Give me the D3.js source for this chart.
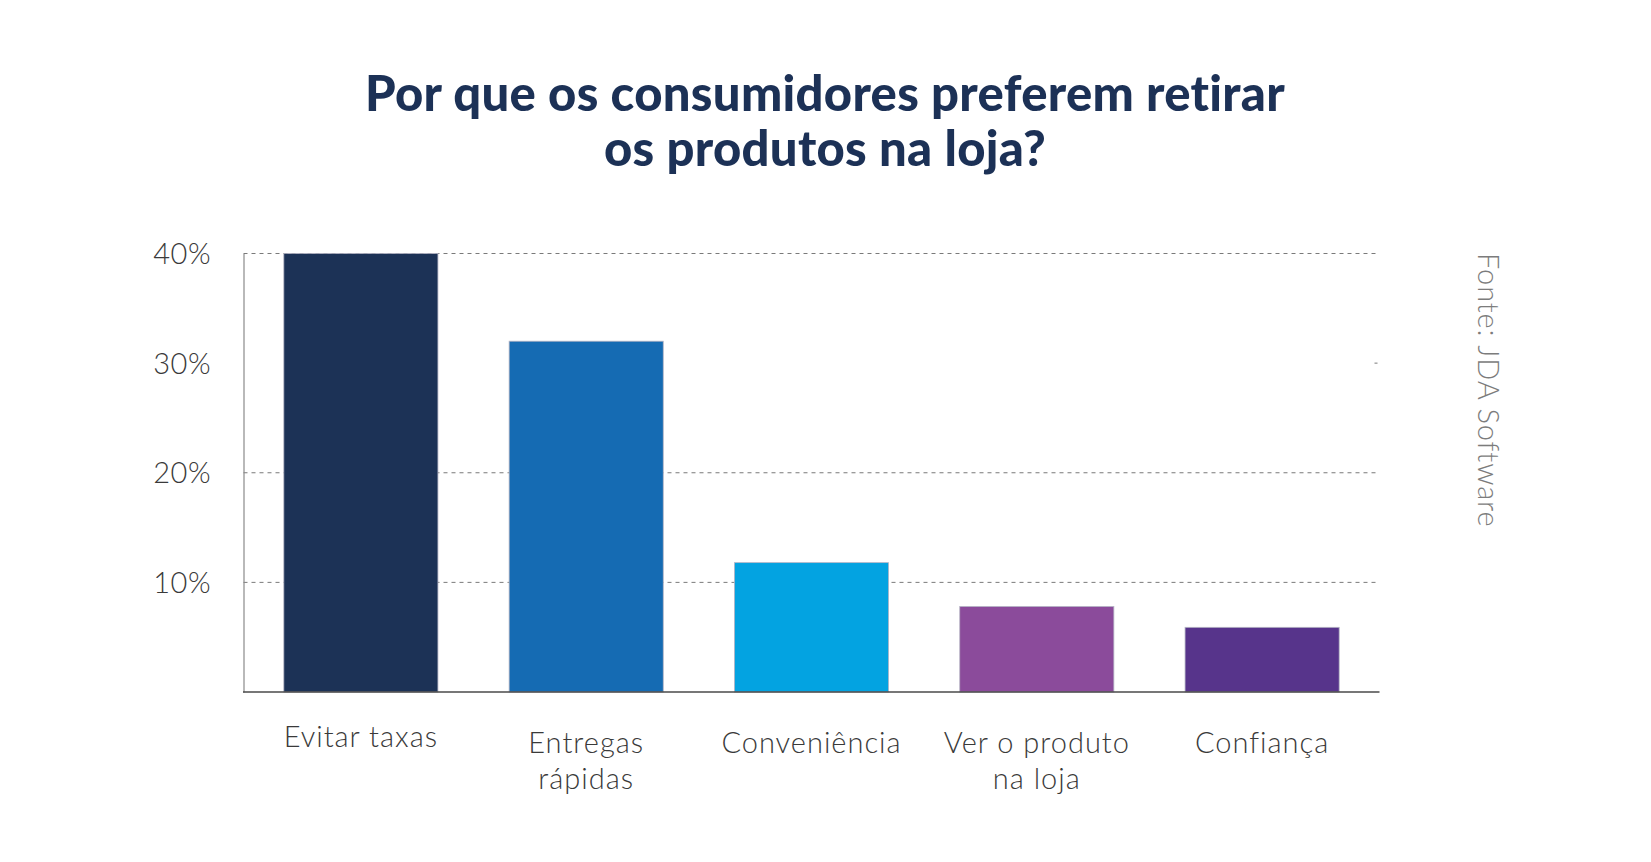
<!DOCTYPE html>
<html>
<head>
<meta charset="utf-8">
<script src="https://cdn.jsdelivr.net/npm/d3@7"></script>
<style>
  html, body { margin: 0; padding: 0; background: #fff; }
  svg { display: block; }
</style>
</head>
<body>
<svg id="chart" width="1651" height="862"></svg>
<script>
const titleLines = ["Por que os consumidores preferem retirar", "os produtos na loja?"];
const categories = ["Evitar taxas", "Entregas\nrápidas", "Conveniência", "Ver o produto\nna loja", "Confiança"];
const values = [40, 32, 11.8, 7.8, 5.9];
const barColors = ["#1c3256", "#156bb3", "#03a3e1", "#8b4b9b", "#57348b"];
const yTicks = [10, 20, 30, 40];
const sourceText = "Fonte: JDA Software";

const svg = d3.select("#chart");
const W = 1651, H = 862;
const plot = { left: 243.5, right: 1379.5, top: 253.5, bottom: 692 };
const FONT = "Lato, 'Open Sans', sans-serif";

svg.append("rect").attr("width", W).attr("height", H).attr("fill", "#fff");

// Title
const title = svg.append("text")
  .attr("x", 825).attr("y", 111)
  .attr("text-anchor", "middle")
  .attr("font-family", FONT)
  .attr("font-weight", 900)
  .attr("font-size", 49)
  .attr("letter-spacing", 0.3)
  .attr("fill", "#1c3156");
title.selectAll("tspan").data(titleLines).join("tspan")
  .attr("x", 825)
  .attr("dy", (d, i) => i === 0 ? 0 : 55)
  .text(d => d);

const x = d3.scaleBand()
  .domain(categories)
  .range([plot.left, plot.right])
  .paddingInner(0.316)
  .paddingOuter(0.179);

const y = d3.scaleLinear().domain([0, 40]).range([plot.bottom, plot.top]);

// Gridlines (dashed)
const grid = svg.append("g");
grid.selectAll("line").data(yTicks).join("line")
  .attr("x1", plot.left).attr("x2", plot.right)
  .attr("y1", d => y(d)).attr("y2", d => y(d))
  .attr("stroke", "#7a7a7a")
  .attr("stroke-width", 1)
  .attr("stroke-dasharray", d => d === 30 ? "0 1131 3 10" : "4 4");

// Bars
svg.append("g").selectAll("rect").data(values).join("rect")
  .attr("x", (d, i) => x(categories[i]))
  .attr("width", x.bandwidth())
  .attr("y", d => y(d))
  .attr("height", d => y(0) - y(d))
  .attr("fill", (d, i) => barColors[i])
  .attr("stroke", "#b4b4c4")
  .attr("stroke-width", 0.8);

// Y axis
const yAxis = d3.axisLeft(y).tickValues(yTicks).tickSize(0).tickFormat(d => d + "%");
const gy = svg.append("g").attr("transform", `translate(${plot.left},0)`).call(yAxis);
gy.select(".domain").attr("stroke", "#8a8a8a").attr("stroke-width", 1.2);
gy.selectAll(".tick text")
  .attr("x", 211 - plot.left)
  .attr("dy", "0.35em")
  .attr("font-family", FONT)
  .attr("font-weight", 300)
  .attr("font-size", 29)
  .attr("letter-spacing", 0.5)
  .attr("fill", "#3a3a3a");

// Baseline
svg.append("line")
  .attr("x1", plot.left - 0.5).attr("x2", plot.right)
  .attr("y1", plot.bottom).attr("y2", plot.bottom)
  .attr("stroke", "#4a4a4a").attr("stroke-width", 1.6);

// X labels
const xl = svg.append("g");
categories.forEach((c, i) => {
  const lines = c.split("\n");
  const t = xl.append("text")
    .attr("text-anchor", "middle")
    .attr("font-family", FONT)
    .attr("font-weight", 300)
    .attr("font-size", 29)
    .attr("letter-spacing", 1)
    .attr("fill", "#3a3a3a")
    .attr("y", i === 0 ? 747 : 753);
  t.selectAll("tspan").data(lines).join("tspan")
    .attr("x", x(c) + x.bandwidth() / 2)
    .attr("dy", (d, j) => j === 0 ? 0 : 36)
    .text(d => d);
});

// Source (rotated)
svg.append("text")
  .attr("transform", "translate(1478,253) rotate(90)")
  .attr("font-family", FONT)
  .attr("font-weight", 300)
  .attr("font-size", 29)
  .attr("letter-spacing", 0.9)
  .attr("fill", "#7c7c7c")
  .text(sourceText);
</script>
</body>
</html>
